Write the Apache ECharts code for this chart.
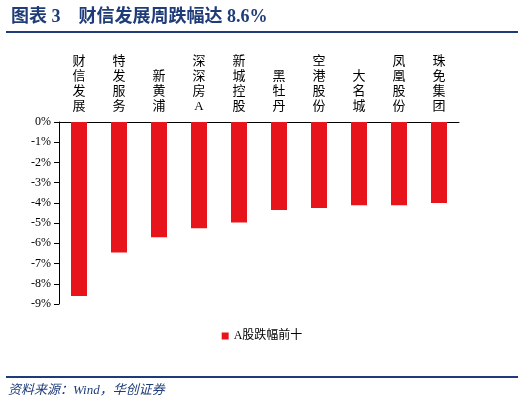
<!DOCTYPE html>
<html>
<head>
<meta charset="utf-8">
<script src="https://cdn.jsdelivr.net/npm/echarts@6/dist/echarts.min.js"></script>
<style>html,body{margin:0;padding:0;background:#fff}#chart{width:524px;height:412px}</style>
</head>
<body>
<div id="chart"></div>
<script>
var categories = ['财信发展', '特发服务', '新黄浦', '深深房A', '新城控股', '黑牡丹', '空港股份', '大名城', '凤凰股份', '珠免集团'];
var values = [-8.6, -6.45, -5.7, -5.25, -4.97, -4.35, -4.25, -4.12, -4.12, -4.0];
var seriesName = 'A股跌幅前十';

var chart = echarts.init(document.getElementById('chart'));
var option = {
	animation: false,
	textStyle: { fontFamily: 'Times New Roman, Liberation Serif, Noto Sans CJK SC' },
	title: {
		text: '图表 3    财信发展周跌幅达 8.6%',
		left: 6, top: 3,
		textStyle: { color: '#1f3c78', fontSize: 18, fontWeight: 'bold', fontFamily: 'Liberation Serif, Noto Sans CJK SC' }
	},
	graphic: [
		{ type: 'rect', shape: { x: 6, y: 31, width: 512, height: 2 }, style: { fill: '#1f3c78' } },
		{ type: 'rect', shape: { x: 6, y: 376, width: 512, height: 2 }, style: { fill: '#1f3c78' } },
		{ type: 'text', left: 8, top: 384, style: { text: '资料来源：Wind，华创证券', fill: '#1f3c78', fontSize: 13, fontStyle: 'italic', fontFamily: 'Liberation Serif, Noto Sans CJK SC' } }
	],
	legend: {
		data: [seriesName], bottom: 65, left: 'center',
		icon: 'rect', itemWidth: 7, itemHeight: 7,
		textStyle: { fontSize: 12, color: '#000' }
	},
	grid: { left: 59, right: 65, top: 122, bottom: 108 },
	xAxis: {
		type: 'category', position: 'top', data: categories,
		axisLine: { lineStyle: { color: '#000' } },
		axisTick: { inside: true, lineStyle: { color: '#000' } },
		axisLabel: {
			color: '#000', fontSize: 13, lineHeight: 15, margin: 8, interval: 0,
			formatter: function (v) { return v.split('').join('\n'); }
		}
	},
	yAxis: {
		type: 'value', min: -9, max: 0, interval: 1,
		axisLine: { show: true, lineStyle: { color: '#000' } },
		axisTick: { show: true, lineStyle: { color: '#000' } },
		splitLine: { show: false },
		axisLabel: { color: '#000', fontSize: 12, formatter: '{value}%' }
	},
	series: [{
		name: seriesName, type: 'bar', data: values, barWidth: 16,
		itemStyle: { color: '#e8141c' }
	}]
};
chart.setOption(option);
</script>
</body>
</html>
